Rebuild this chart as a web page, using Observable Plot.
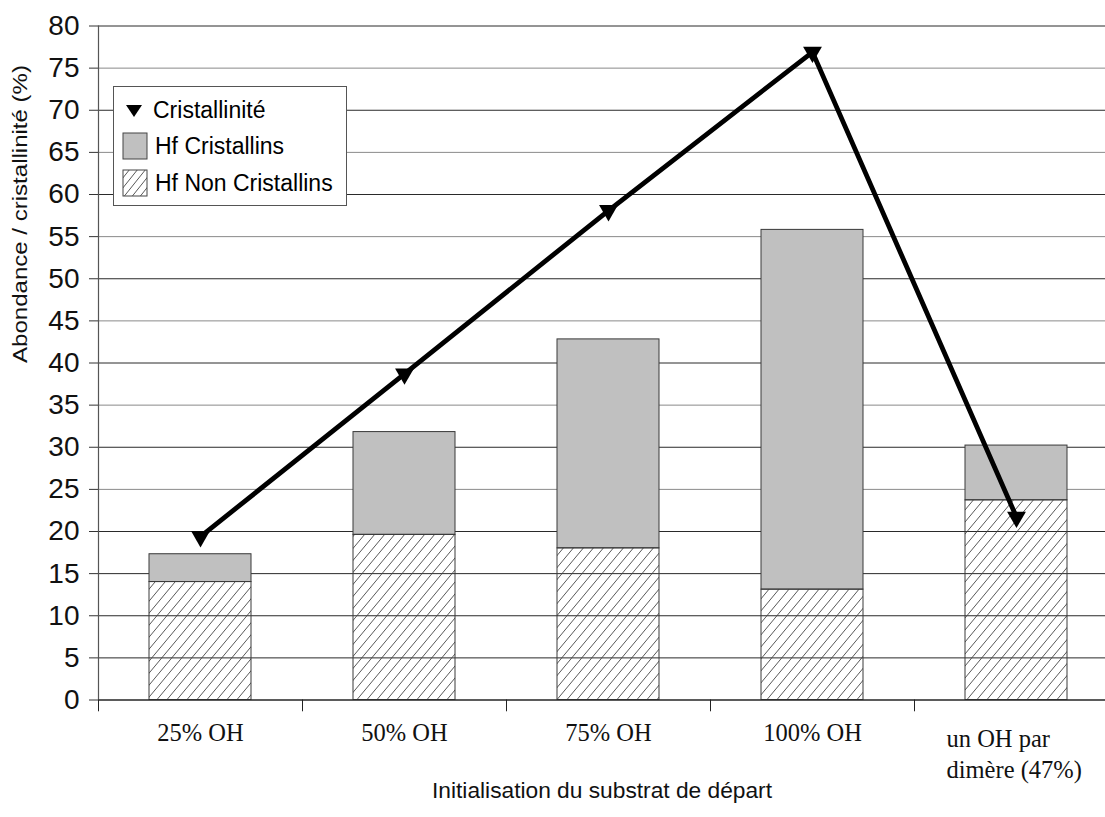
<!DOCTYPE html>
<html><head><meta charset="utf-8">
<script src="https://cdn.jsdelivr.net/npm/d3@7"></script>
<script src="https://cdn.jsdelivr.net/npm/@observablehq/plot@0.6"></script>
<style>
body{margin:0;background:#fff;}
#wrap{position:relative;width:1105px;height:817px;overflow:hidden;background:#fff;}
#legend{position:absolute;left:113px;top:86px;width:232px;height:118px;border:1px solid #555;background:#fff;font-family:"Liberation Sans",Arial,sans-serif;font-size:23px;color:#000;}
#legend .row{position:absolute;left:8px;height:28px;display:flex;align-items:center;}
#legend svg{margin-right:7px;}
</style></head><body><div id="wrap"></div>
<script>
const categories = ["25% OH", "50% OH", "75% OH", "100% OH", "un OH par\ndimère (47%)"];
const hfNonCristallins = [14.0, 19.6, 18.0, 13.1, 23.7];
const hfCristallins = [3.3, 12.2, 24.8, 42.7, 6.5];
const cristallinite = [19.4, 38.7, 58.1, 76.9, 21.7];
const yTicks = [0, 5, 10, 15, 20, 25, 30, 35, 40, 45, 50, 55, 60, 65, 70, 75, 80];
const seriesNames = ["Cristallinité", "Hf Cristallins", "Hf Non Cristallins"];
const xTitle = "Initialisation du substrat de départ";
const yTitle = "Abondance / cristallinité (%)";

const rows = categories.map((c, i) => ({
  cat: c,
  non: hfNonCristallins[i],
  top: hfNonCristallins[i] + hfCristallins[i],
  cris: cristallinite[i]
}));

const half = 102; // half a category step, in px
const sans = "'Liberation Sans', Arial, sans-serif";
const serif = "'Liberation Serif', 'Times New Roman', serif";

const chart = Plot.plot({
  width: 1105,
  height: 817,
  marginLeft: 98,
  marginRight: 0,
  marginTop: 25.5,
  marginBottom: 117.5,
  style: {fontFamily: sans, background: "white", overflow: "visible"},
  x: {domain: categories, range: [98, 1118], paddingInner: 0.5, paddingOuter: 0.25, axis: null},
  y: {domain: [0, 80], axis: null},
  marks: [
    Plot.barY(rows, {x: "cat", y1: "non", y2: "top", fill: "#c0c0c0", stroke: "none"}),
    Plot.ruleY(yTicks, {stroke: d => (d % 10 === 5 && d >= 25) ? "#8a8a8a" : "#2a2a2a", strokeWidth: 1}),
    Plot.barY(rows, {x: "cat", y1: "non", y2: "top", fill: "#c0c0c0", stroke: "#3a3a3a", strokeWidth: 1}),
    Plot.barY(rows, {x: "cat", y1: 0, y2: "non", fill: "url(#hatch)", stroke: "#3a3a3a", strokeWidth: 1}),
    Plot.line(rows, {x: "cat", y: "cris", stroke: "black", strokeWidth: 4.8}),
    Plot.dot(rows, {x: "cat", y: "cris", symbol: "triangle", r: 7, fill: "black", stroke: "none", rotate: 180}),
    // axes
    Plot.ruleY([0], {stroke: "#222", strokeWidth: 1.2}),
    Plot.ruleX([categories[0]], {x: d => d, dx: -half, y1: 0, y2: 80, stroke: "#555", strokeWidth: 1.2}),
    Plot.ruleX(categories, {x: d => d, dx: -half, y1: 0, y2: -1.4, stroke: "#222"}),
    Plot.axisY({ticks: yTicks, tickSize: 9, tickPadding: 10, fontSize: 28, fontFamily: sans, label: null, stroke: "#333", fill: "#111"}),
    Plot.axisX({ticks: categories.slice(0, 4), tickSize: 0, tickPadding: 24, fontSize: 24.5, fontFamily: serif, label: null, fill: "#111"}),
    Plot.text([categories[4]], {x: d => d, frameAnchor: "bottom", dy: 24, dx: -70, textAnchor: "start", lineAnchor: "top", lineHeight: 1.3, fontSize: 24.5, fontFamily: serif, fill: "#111"}),
    Plot.text([xTitle], {frameAnchor: "bottom", dy: 91, lineAnchor: "middle", fontSize: 22.5, fontFamily: sans, fill: "#111", className: "xtitle"}),
    Plot.text([yTitle], {frameAnchor: "left", dx: -78, rotate: -90, fontSize: 21, fontFamily: sans, fill: "#111", className: "ytitle"})
  ]
});

const defs = d3.select(chart).insert("defs", ":first-child");
const pat = defs.append("pattern").attr("id", "hatch").attr("patternUnits", "userSpaceOnUse")
  .attr("width", 10).attr("height", 12);
pat.append("path").attr("d", "M0,12 L10,0 M-5,6 L0,0 M10,12 L15,6").attr("stroke", "#444").attr("stroke-width", 0.9).attr("fill", "none");

// stretch the rotated y title along its length, as in the reference
d3.select(chart).selectAll(".ytitle text").attr("textLength", 298).attr("lengthAdjust", "spacingAndGlyphs");
d3.select(chart).selectAll(".xtitle text").attr("textLength", 340).attr("lengthAdjust", "spacingAndGlyphs");

const wrap = document.getElementById("wrap");
wrap.appendChild(chart);

const legend = document.createElement("div");
legend.id = "legend";
const ls = [
  `<svg width="24" height="24"><path d="M4,7 L20,7 L12,19 Z" fill="black"/></svg>`,
  `<svg width="26" height="28"><rect x="1" y="1" width="24" height="26" fill="#c0c0c0" stroke="#444"/></svg>`,
  `<svg width="26" height="28"><defs><pattern id="hatchL" patternUnits="userSpaceOnUse" width="8" height="10"><rect width="8" height="10" fill="white"/><path d="M0,10 L8,0 M-4,5 L0,0 M8,10 L12,5" stroke="#444" stroke-width="0.9"/></pattern></defs><rect x="1" y="1" width="24" height="26" fill="url(#hatchL)" stroke="#444"/></svg>`
];
const tops = [9, 45, 82];
seriesNames.forEach((n, i) => {
  const r = document.createElement("div");
  r.className = "row";
  r.style.top = tops[i] + "px";
  r.innerHTML = ls[i] + `<span>${n}</span>`;
  legend.appendChild(r);
});
wrap.appendChild(legend);
</script>
</body></html>
